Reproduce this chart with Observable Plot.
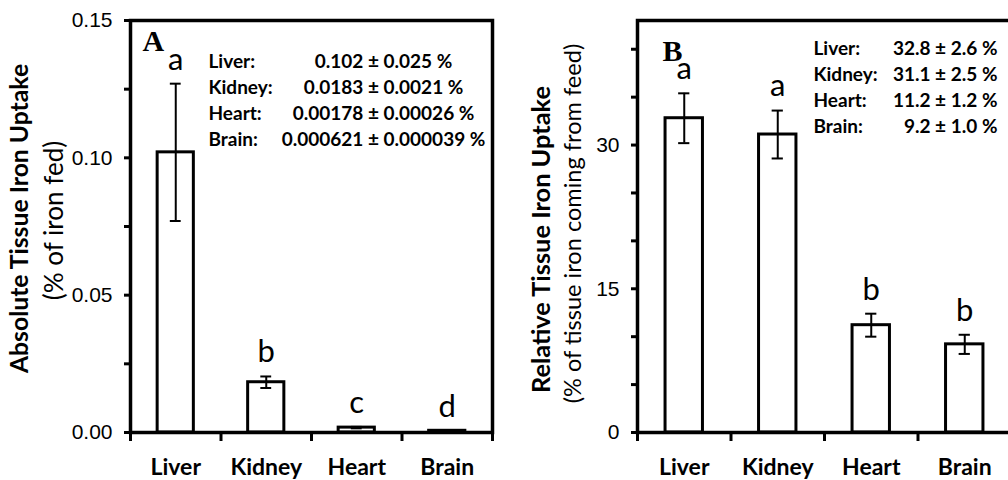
<!DOCTYPE html>
<html>
<head>
<meta charset="utf-8">
<script src="https://cdn.jsdelivr.net/npm/d3@7"></script>
<script src="https://cdn.jsdelivr.net/npm/@observablehq/plot@0.6"></script>
<style>
  html, body { margin: 0; padding: 0; background: #fff; }
  #wrap { display: flex; width: 1008px; height: 480px; overflow: hidden; }
  #wrap svg { flex: none; color: #000; }
</style>
</head>
<body>
<div id="wrap"></div>
<script>
// ---- data ----
const tissues = ["Liver", "Kidney", "Heart", "Brain"];

// Panel A: absolute tissue iron uptake (% of iron fed)
const absMean = [0.102, 0.0183, 0.00178, 0.000621];
const absSem = [0.025, 0.0021, 0.00026, 0.000039];
const absLetters = ["a", "b", "c", "d"];
const absTicks = [0, 0.05, 0.10, 0.15];
const absMinorTicks = [0.025, 0.075, 0.125];

// Panel B: relative tissue iron uptake (% of tissue iron coming from feed)
const relMean = [32.8, 31.1, 11.2, 9.2];
const relSem = [2.6, 2.5, 1.2, 1.0];
const relLetters = ["a", "a", "b", "b"];
const relTicks = [0, 15, 30];
const relMinorTicks = [5, 10, 20, 25, 35, 40];

const SANS = "Lato, 'Open Sans', sans-serif";
const ARIAL = "'Liberation Sans', Arial, sans-serif";
const SERIF = "'Liberation Serif', 'Times New Roman', serif";

// font size that makes a text span a given length (styling only)
const ctx = document.createElement("canvas").getContext("2d");
function fitSize(text, weight, family, target) {
  ctx.font = `${weight} 100px ${family}`;
  return 100 * target / ctx.measureText(text).width;
}

function panel(o) {
  const rows = tissues.map((t, i) => ({t, i, c: i + 0.5, m: o.mean[i], s: o.sem[i], letter: o.letters[i]}));
  const halfBar = 0.2, halfCap = 0.06;
  return Plot.plot({
    width: o.width,
    height: 480,
    marginTop: 20,
    marginBottom: 48,
    marginLeft: o.marginLeft,
    marginRight: o.marginRight,
    style: {background: "white", color: "black", overflow: "visible"},
    x: {domain: [0, tissues.length], axis: null},
    y: {domain: o.yDomain, axis: null},
    marks: [
      Plot.rectY(rows, {x1: d => d.c - halfBar, x2: d => d.c + halfBar, y1: 0, y2: "m", fill: "white", stroke: "black", strokeWidth: 3}),
      Plot.ruleX(rows, {x: "c", y1: d => d.m - d.s, y2: d => d.m + d.s, stroke: "black", strokeWidth: 2}),
      Plot.ruleY(rows, {y: d => d.m + d.s, x1: d => d.c - halfCap, x2: d => d.c + halfCap, stroke: "black", strokeWidth: 2}),
      Plot.ruleY(rows, {y: d => d.m - d.s, x1: d => d.c - halfCap, x2: d => d.c + halfCap, stroke: "black", strokeWidth: 2}),
      Plot.text(rows, {x: "c", y: d => d.m + d.s, text: "letter", dy: -24, lineAnchor: "middle", fontSize: 31, fontFamily: SANS, fill: "black"}),
      Plot.frame({stroke: "black", strokeWidth: 3.5}),
      Plot.axisY({ticks: o.ticks, tickFormat: o.fmt, label: null, tickSize: 6, tickPadding: 12, strokeWidth: 3, fontSize: 21, fontFamily: ARIAL}),
      Plot.axisY({ticks: o.minor, tickFormat: () => "", label: null, tickSize: 6, strokeWidth: 3}),
      Plot.axisX({ticks: d3.range(tissues.length + 1), tickFormat: () => "", label: null, tickSize: 9, strokeWidth: 3}),
      Plot.text(rows, {x: "c", frameAnchor: "bottom", dy: 35.5, text: "t", lineAnchor: "middle", fontSize: 23, fontWeight: "bold", fontFamily: SANS, fill: "black"}),
      Plot.text([o.title], {frameAnchor: "left", rotate: -90, dx: o.titleDx, dy: o.titleDy, textAnchor: "middle", lineAnchor: "middle",
        fontSize: fitSize(o.title, "bold", SANS, o.titleLen), fontWeight: "bold", fontFamily: SANS, fill: "black"}),
      Plot.text([o.subtitle], {frameAnchor: "left", rotate: -90, dx: o.subDx, dy: o.subDy, textAnchor: "middle", lineAnchor: "middle",
        fontSize: fitSize(o.subtitle, "normal", SANS, o.subLen), fontFamily: SANS, fill: "black"}),
      Plot.text([o.panelLetter], {frameAnchor: "top-left", dx: o.pDx, dy: o.pDy, lineAnchor: "bottom", textAnchor: "start", fontSize: 30, fontWeight: "bold", fontFamily: SERIF, fill: "black"}),
      Plot.text([tissues.map(t => t + ":").join("\n")], {frameAnchor: "top-left", dx: o.labDx, dy: o.annDy, lineAnchor: "top", textAnchor: "start", lineHeight: o.lh, fontSize: 19, fontWeight: "bold", fontFamily: SANS, fill: "black"}),
      Plot.text([o.valueStrings.join("\n")], {frameAnchor: "top-left", dx: o.valDx, dy: o.annDy, lineAnchor: "top", textAnchor: o.valAnchor, lineHeight: o.lh, fontSize: 19, fontWeight: "bold", fontFamily: SANS, fill: "black"})
    ]
  });
}

const absStrings = absMean.map((m, i) => `${m} ± ${absSem[i]} %`);
const relStrings = relMean.map((m, i) => `${m.toFixed(1)} ± ${relSem[i].toFixed(1)} %`);

const wrap = document.getElementById("wrap");
wrap.append(panel({
  width: 504, marginLeft: 130, marginRight: 12,
  yDomain: [0, 0.15], ticks: absTicks, minor: absMinorTicks, fmt: d3.format(".2f"),
  mean: absMean, sem: absSem, letters: absLetters,
  title: "Absolute Tissue Iron Uptake", subtitle: "(% of iron fed)",
  titleLen: 310, subLen: 160,
  titleDx: -110, titleDy: -8, subDx: -76, subDy: -6,
  panelLetter: "A", pDx: 12, pDy: 30,
  labDx: 78, valDx: 253, valAnchor: "middle", annDy: 29, lh: 1.37,
  valueStrings: absStrings
}));
wrap.append(panel({
  width: 510, marginLeft: 133, marginRight: 3,
  yDomain: [0, 43], ticks: relTicks, minor: relMinorTicks, fmt: d3.format("d"),
  mean: relMean, sem: relSem, letters: relLetters,
  title: "Relative Tissue Iron Uptake", subtitle: "(% of tissue iron coming from feed)",
  titleLen: 308, subLen: 360,
  titleDx: -96, titleDy: 13, subDx: -64, subDy: -3,
  panelLetter: "B", pDx: 25, pDy: 40,
  labDx: 176, valDx: 360, valAnchor: "end", annDy: 16, lh: 1.37,
  valueStrings: relStrings
}));
</script>
</body>
</html>
